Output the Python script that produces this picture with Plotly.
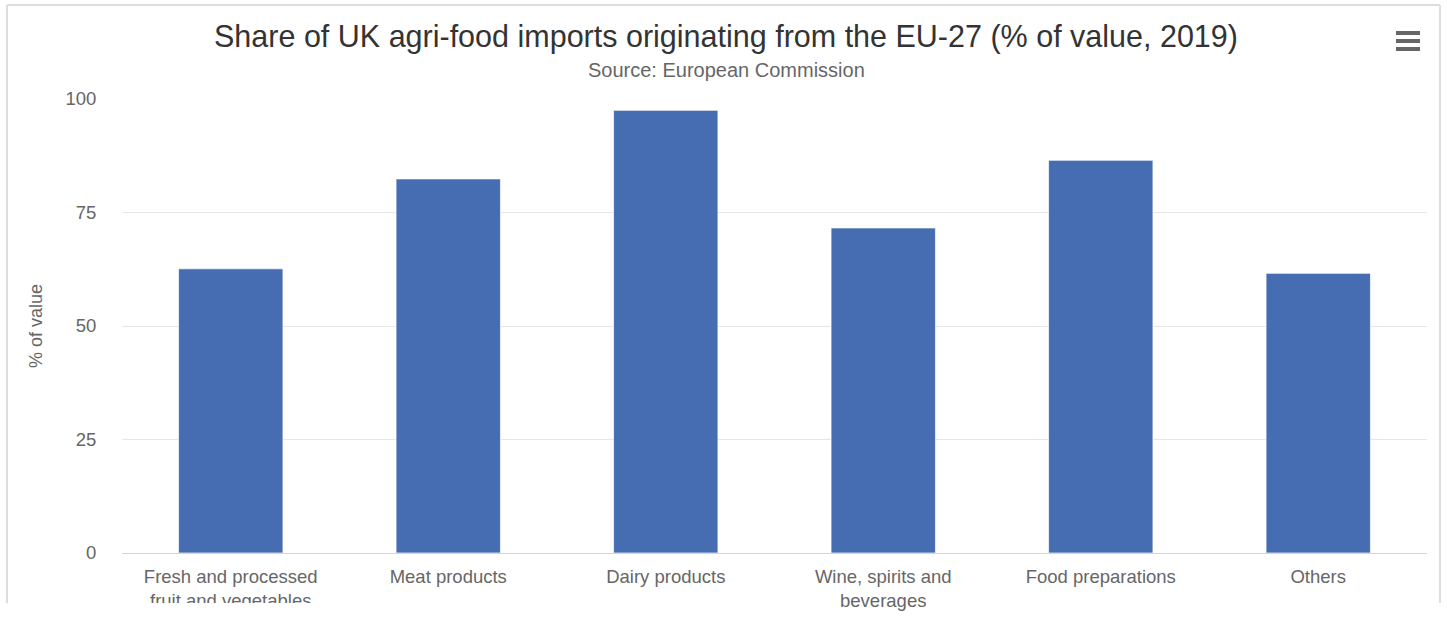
import plotly.graph_objects as go

categories = ["Fresh and processed<br>fruit and vegetables", "Meat products", "Dairy products",
              "Wine, spirits and<br>beverages", "Food preparations", "Others"]
values = [62.6, 82.4, 97.5, 71.6, 86.5, 61.6]
y_ticks = [0, 25, 50, 75, 100]

W, H = 1447, 628
L, R, T, B = 122, 20, 99, 75
PW, PH = W - L - R, H - T - B
CX = 726  # centre of title block in pixels

fig = go.Figure(go.Bar(
    x=categories, y=values,
    marker=dict(color="#466db2", line=dict(color="rgba(255,255,255,0.7)", width=1)),
    hoverinfo="x+y",
))

font = "Liberation Sans, Arial, sans-serif"
fig.update_layout(
    width=W, height=H,
    margin=dict(l=L, r=R, t=T, b=B),
    paper_bgcolor="white", plot_bgcolor="white",
    bargap=0.52,
    showlegend=False,
    font=dict(family=font, color="#666666"),
    title=dict(text="Share of UK agri-food imports originating from the EU-27 (% of value, 2019)",
               x=CX / W, xanchor="center", y=1 - 36 / H, yanchor="middle",
               font=dict(size=30.5, color="#333333", family=font)),
    annotations=[dict(text="Source: European Commission", x=(CX - L) / PW, xref="paper",
                      xanchor="center",
                      y=(H - B - 70) / PH, yref="paper", yanchor="middle", showarrow=False,
                      font=dict(size=20, color="#666666", family=font))],
)
fig.update_xaxes(
    showgrid=False, showline=True, linecolor="#ccd6eb", linewidth=1,
    ticks="outside", ticklen=7, tickcolor="rgba(0,0,0,0)",
    tickfont=dict(size=18.5, color="#666666"),
)
fig.update_yaxes(
    range=[0, 100], tickvals=y_ticks, showgrid=True, gridcolor="#e6e6e6", gridwidth=1,
    zeroline=False, showline=False,
    ticks="outside", ticklen=21, tickcolor="rgba(0,0,0,0)",
    tickfont=dict(size=18.5, color="#666666"),
    title=dict(text="% of value", font=dict(size=18, color="#666666"), standoff=18),
)

def px_line(x0, y0, x1, y1, color, width):
    return dict(type="line", xref="paper", yref="paper", layer="above",
                x0=(x0 - L) / PW, x1=(x1 - L) / PW,
                y0=(H - B - y0) / PH, y1=(H - B - y1) / PH,
                line=dict(color=color, width=width))

shapes = []
# clipped first label (overflow of the container)
shapes.append(dict(type="rect", xref="paper", yref="paper", layer="above",
                   x0=(125 - L) / PW, x1=(335 - L) / PW,
                   y0=-B / PH, y1=-(603 - (H - B)) / PH,
                   fillcolor="white", line=dict(width=0)))
# container border
shapes.append(px_line(7, 5, 1440, 5, "#dddddd", 2))
shapes.append(px_line(7, 5, 7, 603, "#dddddd", 2))
shapes.append(px_line(1440, 5, 1440, 603, "#dddddd", 2))
# hamburger icon
for yy in (33, 41, 49):
    shapes.append(px_line(1396, yy, 1420, yy, "#666666", 4))
fig.update_layout(shapes=shapes)

fig.write_html("out.html", config={"displayModeBar": False},
               post_script="document.body.style.margin='0';")
